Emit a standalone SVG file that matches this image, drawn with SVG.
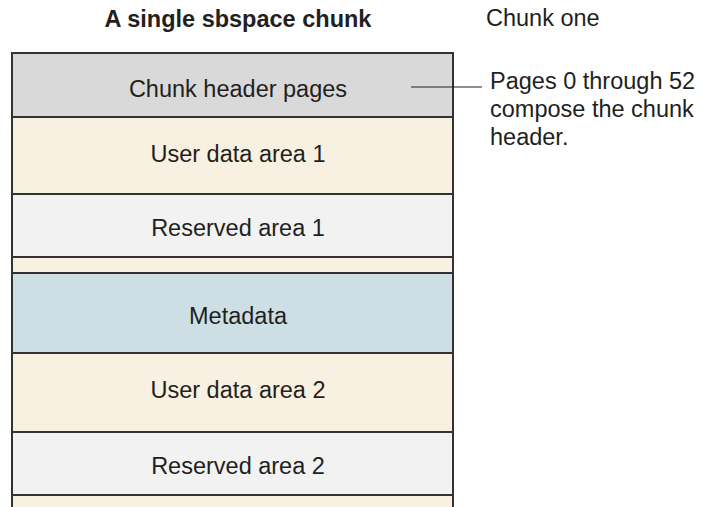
<svg xmlns="http://www.w3.org/2000/svg" width="701" height="507" viewBox="0 0 701 507">
<style>
text{font-family:"Liberation Sans",Arial,sans-serif;font-size:23.5px;fill:#231f20}
.c{text-anchor:middle}
.t{font-weight:bold}
.cell{stroke:#333;stroke-width:2}
.hd{fill:#d9d9d9}.ud{fill:#f8f1e1}.rs{fill:#f2f2f2}.md{fill:#cddfe4}
.side{fill:none;stroke:#333;stroke-width:2}
.ln{stroke:#231f20;stroke-width:1;fill:none}
</style>
<rect width="701" height="507" fill="#fff"/>
<text id="title" class="c t" x="238" y="27">A single sbspace chunk</text>
<text id="chunk-one" x="486" y="26">Chunk one</text>
<g id="header"><rect class="cell hd" x="12" y="53" width="441" height="64"/><text class="c" x="238" y="97">Chunk header pages</text></g>
<g id="user1"><rect class="cell ud" x="12" y="117" width="441" height="77"/><text class="c" x="238" y="162">User data area 1</text></g>
<g id="reserved1"><rect class="cell rs" x="12" y="194" width="441" height="63"/><text class="c" x="238" y="236">Reserved area 1</text></g>
<g id="strip1"><rect class="cell ud" x="12" y="257" width="441" height="16"/></g>
<g id="metadata"><rect class="cell md" x="12" y="273" width="441" height="80"/><text class="c" x="238" y="324">Metadata</text></g>
<g id="user2"><rect class="cell ud" x="12" y="353" width="441" height="79"/><text class="c" x="238" y="398">User data area 2</text></g>
<g id="reserved2"><rect class="cell rs" x="12" y="432" width="441" height="63"/><text class="c" x="238" y="474">Reserved area 2</text></g>
<g id="strip2"><rect class="ud" x="12" y="495" width="441" height="14"/><path class="side" d="M12 495H453M12 495V507M453 495V507"/></g>
<g id="connectors"><line class="ln" x1="411" y1="87" x2="482" y2="87"/></g>
<g id="note"><text x="490" y="89">Pages 0 through 52</text><text x="490" y="117">compose the chunk</text><text x="490" y="145">header.</text></g>
</svg>
